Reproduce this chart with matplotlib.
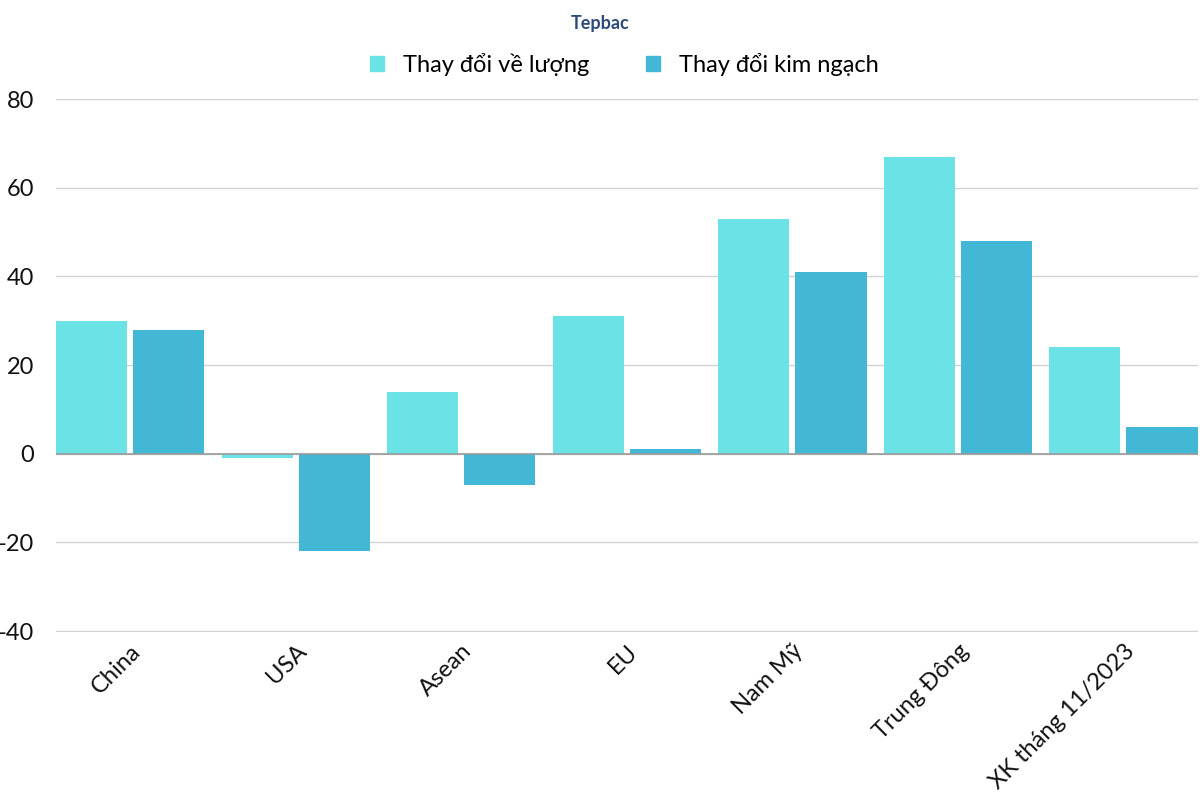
import matplotlib
matplotlib.use("Agg")
import matplotlib.pyplot as plt
import numpy as np

categories = ["China", "USA", "Asean", "EU", "Nam Mỹ", "Trung Đông", "XK tháng 11/2023"]
luong = [30, -1, 14, 31, 53, 67, 24]
kim_ngach = [28, -22, -7, 1, 41, 48, 6]
series_names = ["Thay đổi về lượng", "Thay đổi kim ngạch"]
colors = ["#6be3e6", "#42b7d6"]
yticks = [-40, -20, 0, 20, 40, 60, 80]

plt.rcParams['font.family'] = ['Lato', 'DejaVu Sans']

fig = plt.figure(figsize=(12, 8), dpi=100)
ax = fig.add_axes([0.0467, 0.2098, 0.9513, 0.6662])

x = np.arange(len(categories))
w = 0.43
gap = 0.036
for vals, off, c in [(luong, -(w + gap) / 2, colors[0]), (kim_ngach, (w + gap) / 2, colors[1])]:
    ax.bar(x + off, vals, width=w, color=c, zorder=3)

ax.set_xlim(x[0] - (w + gap) / 2 - w / 2, x[-1] + (w + gap) / 2 + w / 2)
ax.set_ylim(-40.25, 80)
ax.set_yticks(yticks)
ax.set_yticklabels([str(t) for t in yticks], fontsize=17, color="#111111")
ax.yaxis.grid(True, color="#d3d3d3", linewidth=1, zorder=0)
ax.axhline(0, color="#9a9a9a", linewidth=1.2, zorder=4)
ax.tick_params(axis="y", length=0, pad=16)
ax.tick_params(axis="x", length=0, pad=6)
for s in ax.spines.values():
    s.set_visible(False)
ax.set_xticks(x)
ax.set_xticklabels(categories, rotation=45, ha="right", rotation_mode="anchor",
                   fontsize=17, color="#111111")

handles = [plt.Rectangle((0, 0), 1, 1, color=c) for c in colors]
fig.legend(handles, series_names, loc="center", bbox_to_anchor=(0.52, 0.92), ncol=2,
           frameon=False, fontsize=17, handlelength=0.6, handleheight=0.6,
           handletextpad=0.8, columnspacing=2.4)
fig.text(0.5, 0.97, "Tepbac", ha="center", va="center", fontsize=13,
         color="#2c4a7c", fontweight="bold")

fig.savefig("out.png", dpi=100)
